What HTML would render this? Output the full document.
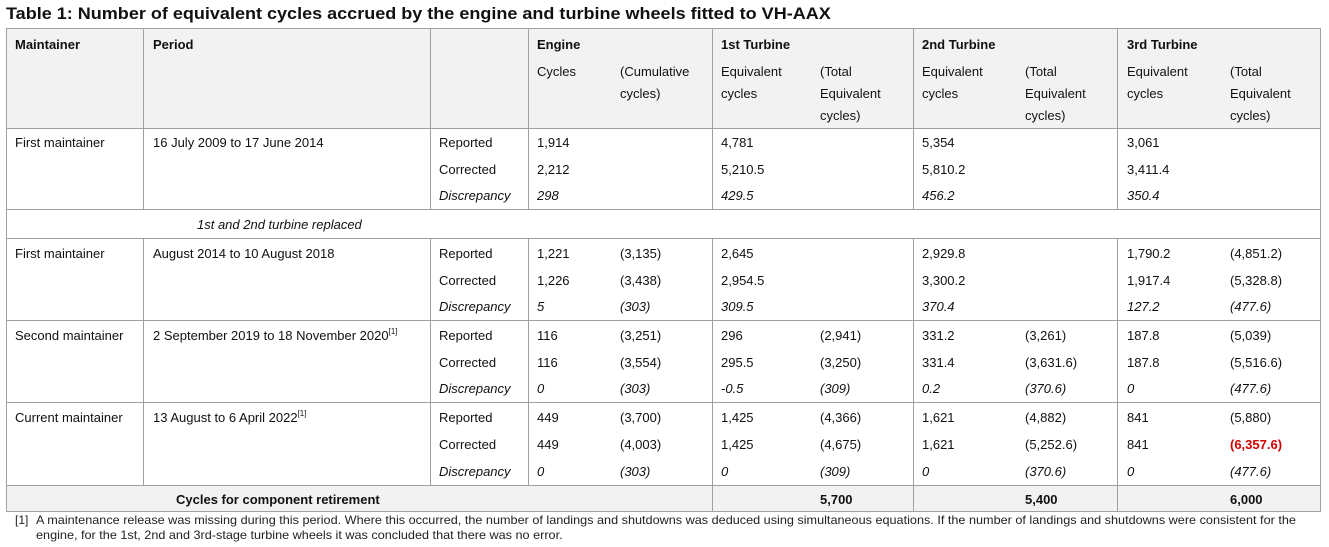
<!DOCTYPE html>
<html><head><meta charset="utf-8"><style>
body{margin:0;width:1329px;height:547px;background:#fff;position:relative;overflow:hidden;font-family:"Liberation Sans",Arial,sans-serif;color:#111}
.t{position:absolute;font-size:13px;white-space:nowrap;line-height:16px}
.b{font-weight:bold}.i{font-style:italic}
.v{position:absolute;width:1px;background:#a0a0a0}
.h{position:absolute;height:1px;background:#a0a0a0}
.bg{position:absolute;background:#f2f2f2}
sup{font-size:8px;vertical-align:top;line-height:8px}
.r{line-height:26.5px}
</style></head><body>
<div class="t b" style="left:6px;top:4px;font-size:17px;line-height:19px;transform-origin:0 0;transform:scaleX(1.06)">Table 1: Number of equivalent cycles accrued by the engine and turbine wheels fitted to VH-AAX</div>
<div class="bg" style="left:6px;top:28px;width:1315px;height:100px"></div>
<div class="bg" style="left:6px;top:485px;width:1315px;height:26px"></div>
<div class="h" style="left:6px;top:28px;width:1315px"></div>
<div class="h" style="left:6px;top:128px;width:1315px"></div>
<div class="h" style="left:6px;top:209px;width:1315px"></div>
<div class="h" style="left:6px;top:238px;width:1315px"></div>
<div class="h" style="left:6px;top:320px;width:1315px"></div>
<div class="h" style="left:6px;top:402px;width:1315px"></div>
<div class="h" style="left:6px;top:485px;width:1315px"></div>
<div class="h" style="left:6px;top:511px;width:1315px"></div>
<div class="v" style="left:6px;top:28px;height:483px"></div>
<div class="v" style="left:1320px;top:28px;height:483px"></div>
<div class="v" style="left:143px;top:28px;height:181px"></div>
<div class="v" style="left:430px;top:28px;height:181px"></div>
<div class="v" style="left:528px;top:28px;height:181px"></div>
<div class="v" style="left:712px;top:28px;height:181px"></div>
<div class="v" style="left:913px;top:28px;height:181px"></div>
<div class="v" style="left:1117px;top:28px;height:181px"></div>
<div class="v" style="left:143px;top:238px;height:247px"></div>
<div class="v" style="left:430px;top:238px;height:247px"></div>
<div class="v" style="left:528px;top:238px;height:247px"></div>
<div class="v" style="left:712px;top:238px;height:273px"></div>
<div class="v" style="left:913px;top:238px;height:273px"></div>
<div class="v" style="left:1117px;top:238px;height:273px"></div>
<div class="t b" style="left:15px;top:37px">Maintainer</div>
<div class="t b" style="left:153px;top:37px">Period</div>
<div class="t b" style="left:537px;top:37px">Engine</div>
<div class="t b" style="left:721px;top:37px">1st Turbine</div>
<div class="t b" style="left:922px;top:37px">2nd Turbine</div>
<div class="t b" style="left:1127px;top:37px">3rd Turbine</div>
<div class="t" style="left:537px;top:64px">Cycles</div>
<div class="t" style="left:620px;top:61px;line-height:22px">(Cumulative<br>cycles)</div>
<div class="t" style="left:721px;top:61px;line-height:22px">Equivalent<br>cycles</div>
<div class="t" style="left:820px;top:61px;line-height:22px">(Total<br>Equivalent<br>cycles)</div>
<div class="t" style="left:922px;top:61px;line-height:22px">Equivalent<br>cycles</div>
<div class="t" style="left:1025px;top:61px;line-height:22px">(Total<br>Equivalent<br>cycles)</div>
<div class="t" style="left:1127px;top:61px;line-height:22px">Equivalent<br>cycles</div>
<div class="t" style="left:1230px;top:61px;line-height:22px">(Total<br>Equivalent<br>cycles)</div>
<!-- row 1 -->
<div class="t" style="left:15px;top:135px">First maintainer</div>
<div class="t" style="left:153px;top:135px">16 July 2009 to 17 June 2014</div>
<div class="t r" style="left:439px;top:130px">Reported<br>Corrected<br><i>Discrepancy</i></div>
<div class="t r" style="left:537px;top:130px">1,914<br>2,212<br><i>298</i></div>
<div class="t r" style="left:721px;top:130px">4,781<br>5,210.5<br><i>429.5</i></div>
<div class="t r" style="left:922px;top:130px">5,354<br>5,810.2<br><i>456.2</i></div>
<div class="t r" style="left:1127px;top:130px">3,061<br>3,411.4<br><i>350.4</i></div>
<div class="t i" style="left:197px;top:217px">1st and 2nd turbine replaced</div>
<!-- row 2 -->
<div class="t" style="left:15px;top:246px">First maintainer</div>
<div class="t" style="left:153px;top:246px">August 2014 to 10 August 2018</div>
<div class="t r" style="left:439px;top:241px">Reported<br>Corrected<br><i>Discrepancy</i></div>
<div class="t r" style="left:537px;top:241px">1,221<br>1,226<br><i>5</i></div>
<div class="t r" style="left:620px;top:241px">(3,135)<br>(3,438)<br><i>(303)</i></div>
<div class="t r" style="left:721px;top:241px">2,645<br>2,954.5<br><i>309.5</i></div>
<div class="t r" style="left:922px;top:241px">2,929.8<br>3,300.2<br><i>370.4</i></div>
<div class="t r" style="left:1127px;top:241px">1,790.2<br>1,917.4<br><i>127.2</i></div>
<div class="t r" style="left:1230px;top:241px">(4,851.2)<br>(5,328.8)<br><i>(477.6)</i></div>
<!-- row 3 -->
<div class="t" style="left:15px;top:328px">Second maintainer</div>
<div class="t" style="left:153px;top:328px">2 September 2019 to 18 November 2020<sup>[1]</sup></div>
<div class="t r" style="left:439px;top:323px">Reported<br>Corrected<br><i>Discrepancy</i></div>
<div class="t r" style="left:537px;top:323px">116<br>116<br><i>0</i></div>
<div class="t r" style="left:620px;top:323px">(3,251)<br>(3,554)<br><i>(303)</i></div>
<div class="t r" style="left:721px;top:323px">296<br>295.5<br><i>-0.5</i></div>
<div class="t r" style="left:820px;top:323px">(2,941)<br>(3,250)<br><i>(309)</i></div>
<div class="t r" style="left:922px;top:323px">331.2<br>331.4<br><i>0.2</i></div>
<div class="t r" style="left:1025px;top:323px">(3,261)<br>(3,631.6)<br><i>(370.6)</i></div>
<div class="t r" style="left:1127px;top:323px">187.8<br>187.8<br><i>0</i></div>
<div class="t r" style="left:1230px;top:323px">(5,039)<br>(5,516.6)<br><i>(477.6)</i></div>
<!-- row 4 -->
<div class="t" style="left:15px;top:410px">Current maintainer</div>
<div class="t" style="left:153px;top:410px">13 August to 6 April 2022<sup>[1]</sup></div>
<div class="t r" style="left:439px;top:405px;line-height:26.8px">Reported<br>Corrected<br><i>Discrepancy</i></div>
<div class="t r" style="left:537px;top:405px;line-height:26.8px">449<br>449<br><i>0</i></div>
<div class="t r" style="left:620px;top:405px;line-height:26.8px">(3,700)<br>(4,003)<br><i>(303)</i></div>
<div class="t r" style="left:721px;top:405px;line-height:26.8px">1,425<br>1,425<br><i>0</i></div>
<div class="t r" style="left:820px;top:405px;line-height:26.8px">(4,366)<br>(4,675)<br><i>(309)</i></div>
<div class="t r" style="left:922px;top:405px;line-height:26.8px">1,621<br>1,621<br><i>0</i></div>
<div class="t r" style="left:1025px;top:405px;line-height:26.8px">(4,882)<br>(5,252.6)<br><i>(370.6)</i></div>
<div class="t r" style="left:1127px;top:405px;line-height:26.8px">841<br>841<br><i>0</i></div>
<div class="t r" style="left:1230px;top:405px;line-height:26.8px">(5,880)<br><b style="color:#d00000">(6,357.6)</b><br><i>(477.6)</i></div>
<div class="t b" style="left:176px;top:492px">Cycles for component retirement</div>
<div class="t b" style="left:820px;top:492px">5,700</div>
<div class="t b" style="left:1025px;top:492px">5,400</div>
<div class="t b" style="left:1230px;top:492px">6,000</div>
<div class="t" style="left:15px;top:513px;font-size:12px;line-height:15px;color:#222">[1]</div>
<div class="t" style="left:36px;top:513px;font-size:12px;line-height:15px;color:#222;transform-origin:0 0;transform:scaleX(1.054)">A maintenance release was missing during this period. Where this occurred, the number of landings and shutdowns was deduced using simultaneous equations. If the number of landings and shutdowns were consistent for the<br>engine, for the 1st, 2nd and 3rd-stage turbine wheels it was concluded that there was no error.</div>
</body></html>
